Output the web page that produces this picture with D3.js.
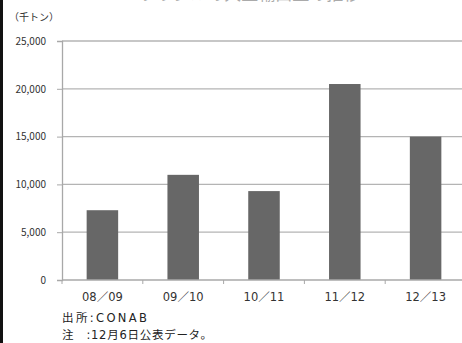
<!DOCTYPE html>
<html>
<head>
<meta charset="utf-8">
<script src="https://cdn.jsdelivr.net/npm/d3@7"></script>
<style>
  body { margin: 0; background: #fff; }
  text { font-family: "Noto Sans CJK JP", sans-serif; }
  .wide { font-family: "DejaVu Sans", "Noto Sans CJK JP", sans-serif; }
</style>
</head>
<body>
<script>
// data
var seasons = ["08／09", "09／10", "10／11", "11／12", "12／13"];
var exportVolume = [7300, 11000, 9300, 20500, 15000];
var yTicks = [0, 5000, 10000, 15000, 20000, 25000];
var titleText = "ブラジルの大豆輸出量の推移";
var unitText = "（千トン）";
var notes = ["出所:CONAB", "注　:12月6日公表データ。"];

var W = 462, H = 343;
var margin = {top: 41, right: -4, bottom: 63, left: 62},
    width = W - margin.left - margin.right,
    height = H - margin.top - margin.bottom;

var root = d3.select("body").append("svg")
    .attr("width", W)
    .attr("height", H);

// left frame edge
root.append("rect")
    .attr("x", 0).attr("y", 0)
    .attr("width", 3).attr("height", H)
    .attr("fill", "#111");

// title (mostly cut off at top in the original)
root.append("text")
    .attr("x", 250).attr("y", -0.5)
    .attr("text-anchor", "middle")
    .style("font-size", "17px")
    .style("fill", "#aaa")
    .text(titleText);

root.append("text")
    .attr("x", 9).attr("y", 21)
    .style("font-size", "10px")
    .style("fill", "#333")
    .text(unitText);

var svg = root.append("g")
    .attr("transform", "translate(" + margin.left + "," + margin.top + ")");

var x = d3.scaleBand()
    .domain(seasons)
    .range([0, width])
    .paddingInner(0.61)
    .paddingOuter(0.305);

var y = d3.scaleLinear()
    .domain([0, 25000])
    .range([height, 0]);

// gridlines
svg.append("g")
  .selectAll("line")
  .data(yTicks.filter(function(d) { return d > 0; }))
  .enter()
  .append("line")
    .attr("x1", 0).attr("x2", width)
    .attr("y1", function(d) { return y(d); })
    .attr("y2", function(d) { return y(d); })
    .attr("stroke", "#b4b4b4")
    .attr("stroke-width", 1.3);

// bars
svg.append("g")
  .selectAll("rect")
  .data(exportVolume)
  .enter()
  .append("rect")
    .attr("x", function(d, i) { return x(seasons[i]); })
    .attr("y", function(d) { return y(d); })
    .attr("width", x.bandwidth())
    .attr("height", function(d) { return height - y(d); })
    .attr("fill", "#676767");

// y axis
var yAxis = svg.append("g")
    .call(d3.axisLeft(y).tickValues(yTicks).tickSize(5).tickPadding(11)
      .tickFormat(d3.format(",")));
yAxis.select(".domain").attr("stroke", "#a8a8a8").attr("stroke-width", 1.3);
yAxis.selectAll(".tick line").attr("stroke", "#a8a8a8");
yAxis.selectAll(".tick text")
    .style("font-size", "10px")
    .style("fill", "#333")
    .attr("font-family", "\"Noto Sans CJK JP\", sans-serif");

// x axis: ticks at category boundaries
var xAxisG = svg.append("g")
    .attr("transform", "translate(0," + height + ")");
xAxisG.append("line")
    .attr("x1", 0).attr("x2", width)
    .attr("stroke", "#a8a8a8").attr("stroke-width", 1.3);
xAxisG.selectAll(".bound")
  .data(seasons)
  .enter()
  .append("line")
    .attr("class", "bound")
    .attr("x1", function(d) { return x(d) - x.step() * x.paddingInner() / 2; })
    .attr("x2", function(d) { return x(d) - x.step() * x.paddingInner() / 2; })
    .attr("y1", 0).attr("y2", 4)
    .attr("stroke", "#a8a8a8");
xAxisG.selectAll(".lab")
  .data(seasons)
  .enter()
  .append("text")
    .attr("class", "lab wide")
    .attr("x", function(d) { return x(d) + x.bandwidth() / 2; })
    .attr("y", 21)
    .attr("text-anchor", "middle")
    .style("font-size", "11.5px")
    .style("fill", "#333")
    .text(function(d) { return d; });

// notes
var noteWidths = [85, 150];
root.selectAll(".note")
  .data(notes)
  .enter()
  .append("text")
    .attr("class", "note wide")
    .attr("x", 62)
    .attr("y", function(d, i) { return 322 + i * 17; })
    .attr("textLength", function(d, i) { return noteWidths[i]; })
    .attr("lengthAdjust", "spacing")
    .style("font-size", "11.5px")
    .style("fill", "#222")
    .text(function(d) { return d; });
</script>
</body>
</html>
